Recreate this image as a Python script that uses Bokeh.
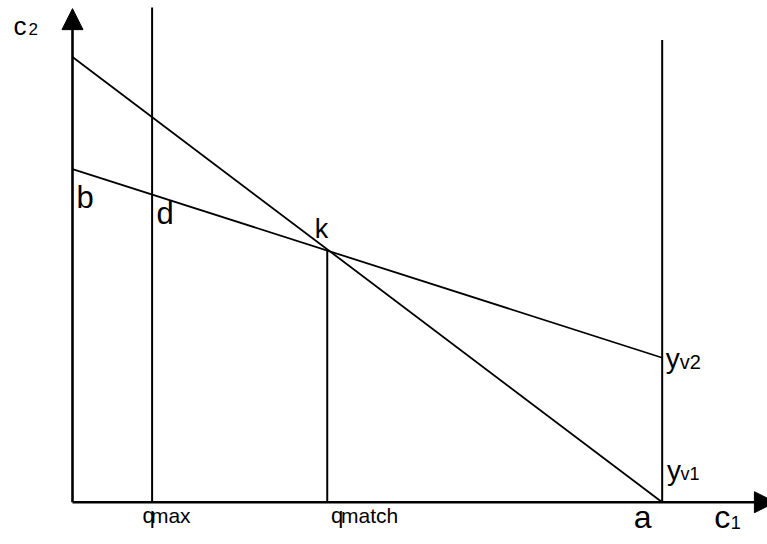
from bokeh.plotting import figure
from bokeh.models import Range1d, Arrow, NormalHead
from bokeh.core.properties import value
from bokeh.embed import file_html
from bokeh.resources import INLINE

# ---- data (diagram units) ----
line_c1 = [0.0, 100.0]          # c1 extent of both lines (0 .. a)
steep_c2 = [75.5, 0.0]          # line through top intercept down to a
flat_c2 = [56.5, 24.5]          # line b -> yv2
q_max = 13.5
q_match = 43.2
a_val = 100.0
k_c2 = 42.8
d_c2 = 52.2
qmax_top = 83.9
a_top = 78.4
c2_axis_top = 83.7
c1_axis_end = 119.2

FONT = "Liberation Sans"

p = figure(width=767, height=544, output_backend="svg", toolbar_location=None,
           x_range=Range1d(-12.21, 117.86), y_range=Range1d(-7.17, 85.08),
           min_border=0, min_border_left=0, min_border_right=0,
           min_border_top=0, min_border_bottom=0,
           x_axis_location=None, y_axis_location=None)
p.outline_line_color = None
p.xgrid.visible = False
p.ygrid.visible = False
p.background_fill_color = "white"
p.border_fill_color = "white"

# axes as arrows
p.add_layout(Arrow(x_start=0, y_start=0, x_end=0, y_end=c2_axis_top,
                   line_width=2.6, line_color="black",
                   end=NormalHead(size=21, fill_color="black", line_color="black", line_width=1)))
p.add_layout(Arrow(x_start=0, y_start=0, x_end=c1_axis_end, y_end=0,
                   line_width=2.6, line_color="black",
                   end=NormalHead(size=21, fill_color="black", line_color="black", line_width=1)))

# the two lines
p.line(line_c1, steep_c2, line_color="black", line_width=1.8)
p.line(line_c1, flat_c2, line_color="black", line_width=1.8)

# vertical lines
p.line([q_max, q_max], [0, qmax_top], line_color="black", line_width=2)
p.line([a_val, a_val], [0, a_top], line_color="black", line_width=2)
p.line([q_match, q_match], [0, k_c2], line_color="black", line_width=2)

def lab(x, y, txt, size, dx, dy):
    # empirical baseline correction for the renderer
    p.text(x=[x], y=[y], text=[txt], x_offset=dx, y_offset=dy - 0.36 * size,
           text_font=value(FONT), text_font_size=f"{size}px",
           text_align="left", text_baseline="alphabetic", text_color="black")

# c2 axis label
lab(0, c2_axis_top, "c", 26, -59, 26.3)
lab(0, c2_axis_top, "2", 17, -44, 26.3)
# c1 axis label
lab(a_val, 0, "c", 32, 52, 26.6)
lab(a_val, 0, "1", 18, 68.5, 26.3)
# a
lab(a_val, 0, "a", 32, -28.5, 26.3)
# q labels
lab(q_max, 0, "q", 22, -9.5, 21.3)
lab(q_max, 0, "max", 21, -1.2, 21.3)
lab(q_match, 0, "q", 22, 3.8, 21.3)
lab(q_match, 0, "match", 21, 13.8, 21.3)
# b, d, k
lab(0, flat_c2[0], "b", 31, 4, 40)
lab(q_max, d_c2, "d", 31, 4.4, 30)
lab(q_match, k_c2, "k", 27, -12.5, -11)
# yv2, yv1
lab(a_val, flat_c2[1], "y", 28, 3.6, 11)
lab(a_val, flat_c2[1], "v2", 20, 17.5, 11)
lab(a_val, 0, "y", 28, 4.8, -21.7)
lab(a_val, 0, "v1", 18, 18.3, -21.7)

open("out.html", "w").write(file_html(p, INLINE))
